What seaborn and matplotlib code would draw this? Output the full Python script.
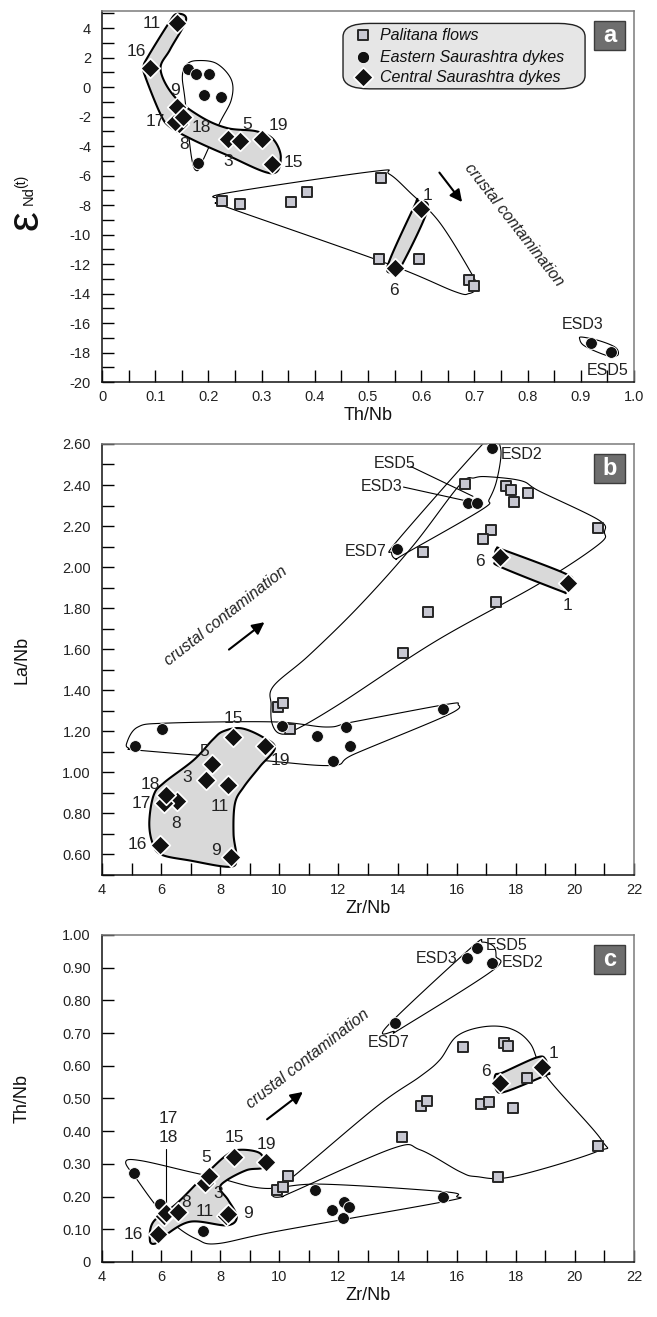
import numpy as np
import pandas as pd
import matplotlib
matplotlib.use("Agg")
import matplotlib.pyplot as plt
import seaborn as sns
from matplotlib.ticker import MultipleLocator, FuncFormatter
from matplotlib.patches import Polygon, FancyBboxPatch, Rectangle

sns.set_theme(style="white")
plt.rcParams['font.family'] = ['Liberation Sans', 'DejaVu Sans']
plt.rcParams['axes.unicode_minus'] = False

# ---------------- data : panel a (Th/Nb vs eNd) ----------------
pal_a_thnb = [0.525, 0.385, 0.355, 0.26, 0.225, 0.52, 0.595, 0.69, 0.70]
pal_a_end = [-6.2, -7.1, -7.8, -7.9, -7.7, -11.65, -11.65, -13.1, -13.5]
east_a_thnb = [0.162, 0.176, 0.201, 0.191, 0.224, 0.181, 0.92, 0.956]
east_a_end = [1.2, 0.85, 0.9, -0.55, -0.65, -5.15, -17.37, -17.94]
cent_a_id = ['11', '16', '8', '17', '9', '18', '3', '5', '19', '15', '1', '6']
cent_a_thnb = [0.140, 0.090, 0.145, 0.137, 0.140, 0.153, 0.237, 0.259, 0.300, 0.320, 0.600, 0.550]
cent_a_end = [4.35, 1.3, -2.5, -2.35, -1.35, -2.0, -3.5, -3.65, -3.5, -5.2, -8.25, -12.25]

# ---------------- data : panel b (Zr/Nb vs La/Nb) ----------------
pal_b_zrnb = [9.96, 10.13, 10.36, 14.17, 15.04, 16.28, 17.66, 17.83, 18.42, 17.94, 20.79, 17.15, 16.88, 14.87, 17.33]
pal_b_lanb = [1.32, 1.34, 1.21, 1.58, 1.78, 2.405, 2.395, 2.375, 2.36, 2.315, 2.19, 2.18, 2.135, 2.075, 1.83]
east_b_zrnb = [6.04, 5.1, 10.08, 11.26, 12.25, 12.39, 11.83, 15.55, 16.39, 16.70, 13.97, 17.19]
east_b_lanb = [1.213, 1.128, 1.224, 1.177, 1.221, 1.127, 1.054, 1.31, 2.314, 2.314, 2.086, 2.58]
cent_b_id = ['16', '9', '8', '17', '18', '3', '11', '5', '15', '19', '6', '1']
cent_b_zrnb = [5.95, 8.38, 6.55, 6.10, 6.17, 7.52, 8.25, 7.71, 8.44, 9.51, 17.46, 19.78]
cent_b_lanb = [0.647, 0.59, 0.86, 0.85, 0.888, 0.964, 0.937, 1.039, 1.172, 1.127, 2.05, 1.923]

# ---------------- data : panel c (Zr/Nb vs Th/Nb) ----------------
pal_c_zrnb = [9.91, 10.11, 10.30, 14.14, 14.78, 14.98, 16.22, 17.6, 17.75, 18.37, 16.81, 17.1, 17.89, 20.77, 17.41]
pal_c_thnb = [0.22, 0.23, 0.263, 0.383, 0.477, 0.493, 0.658, 0.669, 0.661, 0.564, 0.482, 0.49, 0.47, 0.355, 0.259]
east_c_zrnb = [5.08, 5.96, 7.40, 11.2, 11.77, 12.19, 12.37, 12.14, 15.53, 16.35, 16.69, 17.18, 13.91]
east_c_thnb = [0.271, 0.177, 0.095, 0.22, 0.158, 0.182, 0.169, 0.133, 0.199, 0.928, 0.96, 0.915, 0.732]
cent_c_id = ['16', '17', '18', '8', '11', '9', '3', '5', '15', '19', '6', '1']
cent_c_zrnb = [5.91, 6.10, 6.17, 6.58, 8.18, 8.25, 7.48, 7.62, 8.47, 9.55, 17.46, 18.87]
cent_c_thnb = [0.085, 0.14, 0.15, 0.153, 0.14, 0.146, 0.24, 0.263, 0.32, 0.305, 0.546, 0.597]

# ---------------- field outlines (hand-drawn envelopes) ----------------
band_a_central = [(0.140, 4.95), (0.158, 4.55), (0.128, 2.55), (0.110, 1.2), (0.135, -0.6), (0.185, -2.0),
                  (0.235, -2.78), (0.29, -3.0), (0.322, -3.55), (0.336, -4.8), (0.318, -5.85), (0.234, -4.6),
                  (0.171, -3.58), (0.127, -2.68), (0.109, -1.77), (0.081, 0.73), (0.078, 1.4), (0.087, 2.1),
                  (0.124, 4.25)]
loop_a_east = [(0.178, 1.79), (0.215, 1.6), (0.243, 0.5), (0.243, -0.86), (0.221, -2.45), (0.19, -4.94),
               (0.178, -5.67), (0.168, -4.72), (0.156, -0.86), (0.151, 0.73), (0.159, 1.52)]
loop_a_pal = [(0.222, -7.6), (0.232, -7.2), (0.51, -5.72), (0.54, -5.9), (0.579, -7.15), (0.635, -9.2),
              (0.697, -12.8), (0.704, -13.6), (0.69, -14.0), (0.662, -13.85), (0.537, -11.98), (0.239, -8.2),
              (0.224, -7.95)]
band_a_16 = [(0.593, -7.75), (0.612, -8.3), (0.563, -12.1), (0.547, -12.55), (0.538, -12.0), (0.588, -8.0)]
loop_a_esd = [(0.902, -16.95), (0.935, -17.2), (0.965, -17.65), (0.97, -18.15), (0.955, -18.25),
              (0.93, -17.95), (0.905, -17.5), (0.898, -17.1)]

band_b_central = [(8.1, 1.2), (8.7, 1.215), (9.4, 1.175), (9.85, 1.12), (9.35, 1.03), (8.8, 0.93), (8.5, 0.85),
                  (8.45, 0.70), (8.55, 0.58), (8.3, 0.54), (7.0, 0.57), (6.0, 0.6), (5.7, 0.66), (5.6, 0.76),
                  (5.75, 0.89), (6.1, 0.95), (7.1, 1.06), (7.75, 1.16)]
loop_b_east = [(4.83, 1.14), (5.2, 1.22), (6.19, 1.24), (9.8, 1.246), (11.6, 1.221), (12.5, 1.246),
               (15.6, 1.33), (16.05, 1.33), (15.7, 1.28), (12.55, 1.09), (11.8, 1.034), (9.35, 1.059),
               (5.29, 1.107), (4.95, 1.115)]
loop_b_pal = [(9.72, 1.33), (9.8, 1.42), (11.0, 1.57), (12.7, 1.81), (14.5, 2.1), (16.1, 2.40), (16.6, 2.435),
              (17.1, 2.44), (18.2, 2.42), (18.8, 2.37), (20.8, 2.23), (21.0, 2.17), (20.8, 2.11),
              (18.8, 1.92), (15.3, 1.64), (12.0, 1.33), (10.5, 1.205), (10.0, 1.19), (9.75, 1.24)]
loop_b_esd = [(13.8, 2.07), (14.0, 2.13), (16.95, 2.61), (17.3, 2.63), (17.5, 2.56), (17.35, 2.42),
              (17.1, 2.33), (16.85, 2.28), (14.25, 2.065), (13.95, 2.04)]
band_b_16 = [(17.35, 2.09), (17.65, 2.08), (19.65, 1.97), (19.9, 1.93), (19.7, 1.88), (19.5, 1.885),
             (17.5, 2.0), (17.3, 2.03)]

band_c_central = [(5.62, 0.066), (5.74, 0.123), (6.53, 0.179), (7.54, 0.271), (8.22, 0.327), (8.67, 0.343),
                  (9.35, 0.332), (9.46, 0.29), (8.9, 0.281), (8.22, 0.25), (7.99, 0.225), (8.27, 0.189),
                  (8.56, 0.138), (8.22, 0.112), (6.98, 0.123), (6.07, 0.077), (5.79, 0.056)]
loop_c_east = [(4.8, 0.305), (5.3, 0.31), (7.0, 0.275), (8.0, 0.255), (9.5, 0.225), (11.4, 0.238),
               (15.55, 0.215), (16.0, 0.2), (15.55, 0.184), (10.0, 0.095), (7.9, 0.056), (7.2, 0.07),
               (6.5, 0.11), (5.85, 0.17), (5.2, 0.25)]
loop_c_pal = [(9.8, 0.22), (10.47, 0.261), (13.29, 0.475), (14.76, 0.567), (15.43, 0.618), (16.0, 0.69),
              (16.9, 0.719), (17.8, 0.714), (18.48, 0.669), (19.04, 0.567), (20.9, 0.373), (20.73, 0.337),
              (17.9, 0.261), (16.67, 0.261), (16.11, 0.276), (14.76, 0.343), (13.86, 0.348), (10.47, 0.215),
              (10.1, 0.2), (9.8, 0.2)]
loop_c_esd = [(13.65, 0.721), (16.5, 0.962), (16.88, 0.978), (17.25, 0.965), (17.33, 0.935), (17.24, 0.893),
              (14.19, 0.718), (13.87, 0.705)]
band_c_16 = [(17.3, 0.57), (17.58, 0.58), (18.7, 0.625), (19.0, 0.62), (19.1, 0.58), (19.04, 0.572),
             (17.69, 0.522), (17.35, 0.525)]

# ---------------- label positions ----------------
lab_a = {'11': (0.093, 4.3), '16': (0.065, 2.43), '9': (0.137, -0.23), '17': (0.10, -2.34), '18': (0.187, -2.74),
         '8': (0.154, -3.92), '3': (0.237, -5.06), '5': (0.273, -2.56), '19': (0.331, -2.63), '15': (0.359, -5.12),
         '1': (0.6125, -7.33), '6': (0.548, -13.77)}
lab_b = {'15': (8.44, 1.262), '5': (7.45, 1.104), '19': (10.05, 1.059), '3': (6.89, 0.974), '18': (5.65, 0.941),
         '17': (5.34, 0.847), '8': (6.5, 0.753), '11': (7.99, 0.834), '16': (5.2, 0.65), '9': (7.87, 0.617),
         '6': (16.79, 2.026), '1': (19.74, 1.815)}
lab_c = {'16': (5.06, 0.084), '8': (6.84, 0.181), '5': (7.54, 0.32), '3': (7.93, 0.208), '11': (7.48, 0.153),
         '9': (8.95, 0.148), '15': (8.47, 0.38), '19': (9.57, 0.358), '6': (16.99, 0.582), '1': (19.27, 0.638),
         '17': (6.24, 0.44), '18': (6.24, 0.381)}

SQ_FACE = '#c8c8d2'
GREY_BAND = '#d9d9d9'


def smooth_closed(pts, n=30):
    P = np.asarray(pts, float)
    N = len(P)
    t = np.linspace(0, 1, n, endpoint=False)[:, None]
    out = []
    for i in range(N):
        p0, p1, p2, p3 = P[(i - 1) % N], P[i], P[(i + 1) % N], P[(i + 2) % N]
        seg = 0.5 * ((2 * p1) + (-p0 + p2) * t + (2 * p0 - 5 * p1 + 4 * p2 - p3) * t ** 2
                     + (-p0 + 3 * p1 - 3 * p2 + p3) * t ** 3)
        out.append(seg)
    return np.vstack(out)


def outline(ax, pts, fill=None, lw=0.8, z=1):
    poly = Polygon(smooth_closed(pts), closed=True, facecolor=fill if fill else 'none',
                   edgecolor='black', lw=lw, zorder=z)
    ax.add_patch(poly)


def points(ax, x, y, kind):
    df = pd.DataFrame({'x': x, 'y': y})
    if kind == 'pal':
        sns.scatterplot(data=df, x='x', y='y', marker='s', s=52, color=SQ_FACE, edgecolor='#262626',
                        linewidth=1.4, ax=ax, zorder=4, legend=False)
    elif kind == 'east':
        sns.scatterplot(data=df, x='x', y='y', marker='o', s=72, color='#111111', edgecolor='white',
                        linewidth=0.6, ax=ax, zorder=5, legend=False)
    else:
        sns.scatterplot(data=df, x='x', y='y', marker='D', s=100, color='#111111', edgecolor='white',
                        linewidth=1.2, ax=ax, zorder=6, legend=False)


def style_axis(ax, xmaj, xmin, ymaj, ymin, xfmt, yfmt):
    ax.xaxis.set_major_locator(MultipleLocator(xmaj))
    ax.xaxis.set_minor_locator(MultipleLocator(xmin))
    ax.yaxis.set_major_locator(MultipleLocator(ymaj))
    ax.yaxis.set_minor_locator(MultipleLocator(ymin))
    ax.xaxis.set_major_formatter(FuncFormatter(xfmt))
    ax.yaxis.set_major_formatter(FuncFormatter(yfmt))
    ax.tick_params(axis='both', which='both', direction='in', length=8.5, width=1.0, color='black',
                   bottom=True, left=True, top=False, right=False, labelsize=10.5, labelcolor='#222222')
    ax.tick_params(axis='x', which='major', pad=6)
    ax.tick_params(axis='y', which='major', pad=8)
    for s in ['left', 'bottom']:
        ax.spines[s].set_color('#111111')
        ax.spines[s].set_linewidth(1.1)
    for s in ['top', 'right']:
        ax.spines[s].set_color('#7a7a7a')
        ax.spines[s].set_linewidth(1.1)
    ax.set_facecolor('white')


def tag(ax, letter):
    bb = ax.get_window_extent()
    w, h = bb.width, bb.height
    bw, bh = 31 / w, 29 / h
    x1 = 1 - 9 / w
    y1 = 1 - 10 / h
    ax.add_patch(Rectangle((x1 - bw, y1 - bh), bw, bh, transform=ax.transAxes, facecolor='#6e6e6e',
                           edgecolor='#3c3c3c', lw=1.0, zorder=10))
    ax.text(x1 - bw / 2, y1 - bh / 2, letter, transform=ax.transAxes, ha='center', va='center',
            color='white', fontsize=17, fontweight='bold', zorder=11)


def fmt_int(v, p):
    return '%d' % round(v)


def fmt_a_x(v, p):
    return '0' if abs(v) < 1e-9 else '%.1f' % v


def fmt_2(v, p):
    return '0' if abs(v) < 1e-9 else '%.2f' % v


fig = plt.figure(figsize=(6.57, 13.17), dpi=100)
fig.patch.set_facecolor('white')
axa = fig.add_axes([0.1553, 0.7099, 0.8097, 0.2817])
axb = fig.add_axes([0.1553, 0.3356, 0.8097, 0.3273])
axc = fig.add_axes([0.1553, 0.0418, 0.8097, 0.2483])

# ---------------- panel a ----------------
ax = axa
outline(ax, loop_a_east)
outline(ax, loop_a_pal)
outline(ax, loop_a_esd)
outline(ax, band_a_central, fill=GREY_BAND, lw=1.5, z=2)
outline(ax, band_a_16, fill=GREY_BAND, lw=1.5, z=2)
points(ax, pal_a_thnb, pal_a_end, 'pal')
points(ax, east_a_thnb, east_a_end, 'east')
points(ax, cent_a_thnb, cent_a_end, 'cent')
ax.set_xlim(0, 1.0)
ax.set_ylim(-20, 5.15)
style_axis(ax, 0.1, 0.05, 2, 1, fmt_a_x, fmt_int)
ax.set_xlabel('Th/Nb', fontsize=13, labelpad=2, color='#111111')
ax.set_ylabel('')
for k, (x, y) in lab_a.items():
    ax.text(x, y, k, fontsize=12.5, ha='center', va='center', color='#222222', zorder=8)
ax.text(0.903, -16.1, 'ESD3', fontsize=11.5, ha='center', va='center', color='#222222')
ax.text(0.95, -19.25, 'ESD5', fontsize=11.5, ha='center', va='center', color='#222222')
ax.annotate('', xy=(0.68, -7.95), xytext=(0.631, -5.65),
            arrowprops=dict(arrowstyle='-|>', lw=1.5, color='black', mutation_scale=18))
ax.text(0.775, -9.35, 'crustal contamination', rotation=-52, fontsize=11.5, style='italic',
        ha='center', va='center', color='#222222')
# y label epsilon Nd(t)
ax.text(-0.143, 0.437, '\u03b5', transform=ax.transAxes, rotation=90, fontsize=32, ha='center', va='center',
        color='#111111')
ax.text(-0.137, 0.504, 'Nd', transform=ax.transAxes, rotation=90, fontsize=10.5, ha='center', va='center',
        color='#111111')
ax.text(-0.153, 0.540, '(t)', transform=ax.transAxes, rotation=90, fontsize=10, ha='center', va='center',
        color='#111111')
# legend
ax.add_patch(FancyBboxPatch((0.453 + 0.04, 0.779 + 0.04), 0.455 - 0.08, 0.199 - 0.08,
                            boxstyle='round,pad=0.04,rounding_size=0.05', transform=ax.transAxes,
                            facecolor='#e6e6e6', edgecolor='#222222', lw=1.0, zorder=9,
                            mutation_aspect=0.5 * 532 / 371))
leg_rows = [(0.935, 's', SQ_FACE, '#262626', 1.4, 52, 'Palitana flows'),
            (0.876, 'o', '#111111', 'white', 0.6, 78, 'Eastern Saurashtra dykes'),
            (0.822, 'D', '#111111', 'white', 1.2, 100, 'Central Saurashtra dykes')]
for yy, mk, fc, ec, lw, s, txt in leg_rows:
    ax.scatter([0.491], [yy], marker=mk, s=s, c=fc, edgecolors=ec, linewidths=lw, transform=ax.transAxes,
               zorder=11, clip_on=False)
    ax.text(0.523, yy, txt, transform=ax.transAxes, fontsize=11.5, style='italic', va='center', ha='left',
            color='#111111', zorder=11)
tag(ax, 'a')

# ---------------- panel b ----------------
ax = axb
outline(ax, loop_b_east)
outline(ax, loop_b_pal)
outline(ax, loop_b_esd)
outline(ax, band_b_central, fill=GREY_BAND, lw=1.5, z=2)
outline(ax, band_b_16, fill=GREY_BAND, lw=1.5, z=2)
points(ax, pal_b_zrnb, pal_b_lanb, 'pal')
points(ax, east_b_zrnb, east_b_lanb, 'east')
points(ax, cent_b_zrnb, cent_b_lanb, 'cent')
ax.set_xlim(4, 22)
ax.set_ylim(0.5, 2.6)
style_axis(ax, 2, 1, 0.2, 0.1, fmt_int, fmt_2)
ax.set_xlabel('Zr/Nb', fontsize=13, labelpad=2, color='#111111')
ax.set_ylabel('La/Nb', fontsize=13, color='#111111')
ax.yaxis.set_label_coords(-0.135, 0.5)
for k, (x, y) in lab_b.items():
    ax.text(x, y, k, fontsize=12.5, ha='center', va='center', color='#222222', zorder=8)
ax.text(13.9, 2.505, 'ESD5', fontsize=11.5, ha='center', va='center', color='#222222')
ax.text(13.45, 2.395, 'ESD3', fontsize=11.5, ha='center', va='center', color='#222222')
ax.text(17.5, 2.548, 'ESD2', fontsize=11.5, ha='left', va='center', color='#222222')
ax.text(13.62, 2.075, 'ESD7', fontsize=11.5, ha='right', va='center', color='#222222')
ax.plot([14.45, 16.55], [2.49, 2.345], color='black', lw=0.8, zorder=3)
ax.plot([14.2, 16.25], [2.39, 2.325], color='black', lw=0.8, zorder=3)
ax.annotate('', xy=(9.57, 1.74), xytext=(8.22, 1.59),
            arrowprops=dict(arrowstyle='-|>', lw=1.5, color='black', mutation_scale=18))
ax.text(8.2, 1.76, 'crustal contamination', rotation=38, fontsize=11.5, style='italic',
        ha='center', va='center', color='#222222')
tag(ax, 'b')

# ---------------- panel c ----------------
ax = axc
outline(ax, loop_c_east)
outline(ax, loop_c_pal)
outline(ax, loop_c_esd)
outline(ax, band_c_central, fill=GREY_BAND, lw=1.5, z=2)
outline(ax, band_c_16, fill=GREY_BAND, lw=1.5, z=2)
points(ax, pal_c_zrnb, pal_c_thnb, 'pal')
points(ax, east_c_zrnb, east_c_thnb, 'east')
points(ax, cent_c_zrnb, cent_c_thnb, 'cent')
ax.set_xlim(4, 22)
ax.set_ylim(0, 1.0)
style_axis(ax, 2, 1, 0.1, 0.1, fmt_int, fmt_2)
ax.set_xlabel('Zr/Nb', fontsize=13, labelpad=2, color='#111111')
ax.set_ylabel('Th/Nb', fontsize=13, color='#111111')
ax.yaxis.set_label_coords(-0.135, 0.5)
for k, (x, y) in lab_c.items():
    ax.text(x, y, k, fontsize=12.5, ha='center', va='center', color='#222222', zorder=8)
ax.plot([6.17, 6.17], [0.345, 0.165], color='black', lw=0.8, zorder=3)
ax.text(15.31, 0.928, 'ESD3', fontsize=11.5, ha='center', va='center', color='#222222')
ax.text(17.68, 0.968, 'ESD5', fontsize=11.5, ha='center', va='center', color='#222222')
ax.text(18.23, 0.915, 'ESD2', fontsize=11.5, ha='center', va='center', color='#222222')
ax.text(13.7, 0.67, 'ESD7', fontsize=11.5, ha='center', va='center', color='#222222')
ax.annotate('', xy=(10.87, 0.525), xytext=(9.51, 0.431),
            arrowprops=dict(arrowstyle='-|>', lw=1.5, color='black', mutation_scale=18))
ax.text(10.95, 0.62, 'crustal contamination', rotation=38, fontsize=11.5, style='italic',
        ha='center', va='center', color='#222222')
tag(ax, 'c')

fig.savefig('out.png', dpi=100, facecolor='white')
